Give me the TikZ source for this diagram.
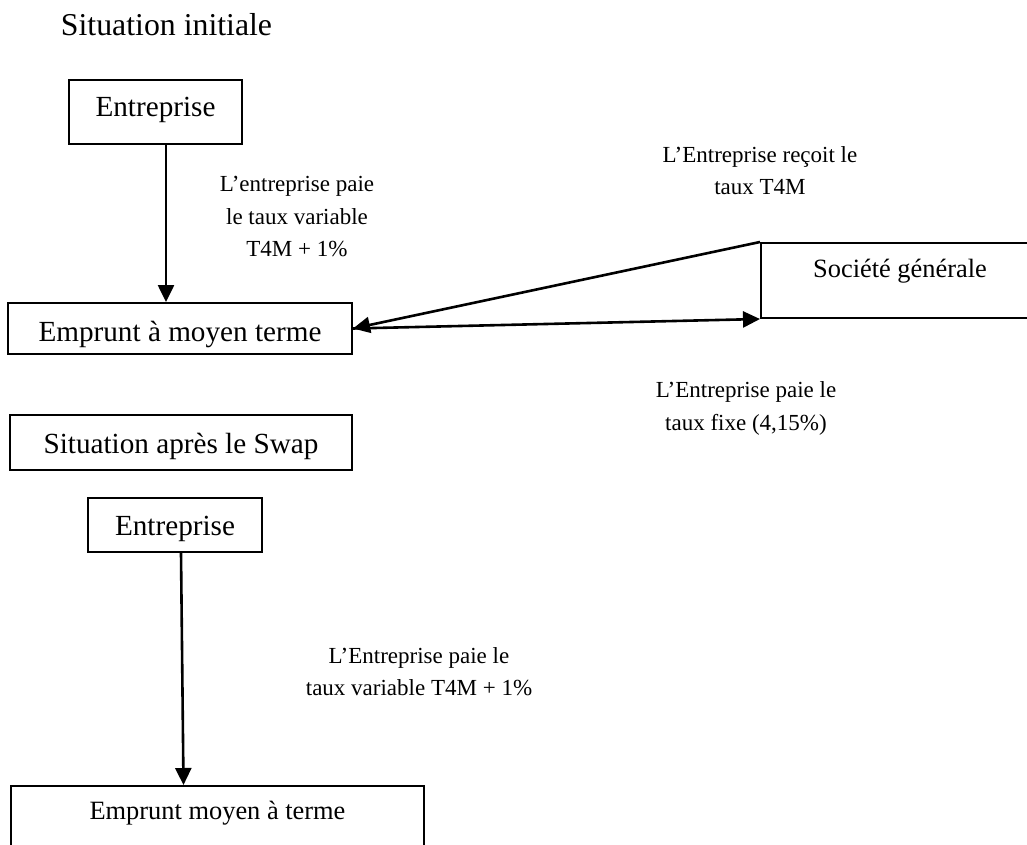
\documentclass[tikz,border=0pt]{standalone}
\usepackage{fontspec}
\setmainfont{Liberation Serif}
\usetikzlibrary{arrows.meta}

\begin{document}
\begin{tikzpicture}[x=0.5pt, y=-0.5pt, align=center,
        box/.style={draw, line width=1pt, inner sep=0pt, anchor=base},
        big/.style={font=\fontsize{14.6}{17}\selectfont},
        mid/.style={font=\fontsize{13.2}{16}\selectfont},
        note/.style={inner sep=0pt, font=\fontsize{11.5}{16.25}\selectfont},
        flow/.style={-{Triangle[length=8.5pt,width=8pt]}, line width=1.3pt}]
        \useasboundingbox (0,0) rectangle (1027,845);
        \clip (0,0) rectangle (1027,845);

        \node[anchor=base, font=\fontsize{15.9}{19}\selectfont](Situation initiale) at (166.5,36) {Situation initiale};
        \node[box, big, minimum width=86.5pt, text height=18.5pt, text depth=13.5pt](Entreprise) at (155.5,117) {Entreprise};
        \node[box, big, minimum width=172pt, text height=19pt, text depth=6.5pt](Emprunt) at (180,341) {Emprunt à moyen terme};
        \node[box, mid, minimum width=139pt, text height=17.5pt, text depth=20pt](Societe generale) at (900,278) {Société générale};

        \node[box, big, minimum width=171pt, text height=19pt, text depth=8.5pt](Situation apres) at (181,453) {Situation après le Swap};
        \node[box, big, minimum width=87pt, text height=18.5pt, text depth=8.5pt](Entreprise apres) at (175,535) {Entreprise};
        \node[box, mid, minimum width=206.5pt, text height=16.5pt, text depth=30.5pt](Emprunt apres) at (217.5,819) {Emprunt moyen à terme};

        \node[note](Paie variable) at (297,217) {L’entreprise paie\\le taux variable\\T4M + 1\%};
        \node[note](Recoit) at (760,170.5) {L’Entreprise reçoit le\\taux T4M};
        \node[note](Paie fixe) at (746,408.5) {L’Entreprise paie le\\taux fixe (4,15\%)};
        \node[note](Paie variable apres) at (419,671.5) {L’Entreprise paie le\\taux variable T4M + 1\%};

        \draw[flow] ([xshift=5.25pt]Entreprise.south) -- ([xshift=5.25pt]Entreprise.south |- Emprunt.north);
        \draw[flow] (Societe generale.north west) -- (Emprunt.east);
        \draw[flow] (Emprunt.east) -- (Societe generale.south west);
        \draw[flow] ([xshift=3pt]Entreprise apres.south) -- ([xshift=-17pt]Emprunt apres.north);
    \end{tikzpicture}
\end{document}
